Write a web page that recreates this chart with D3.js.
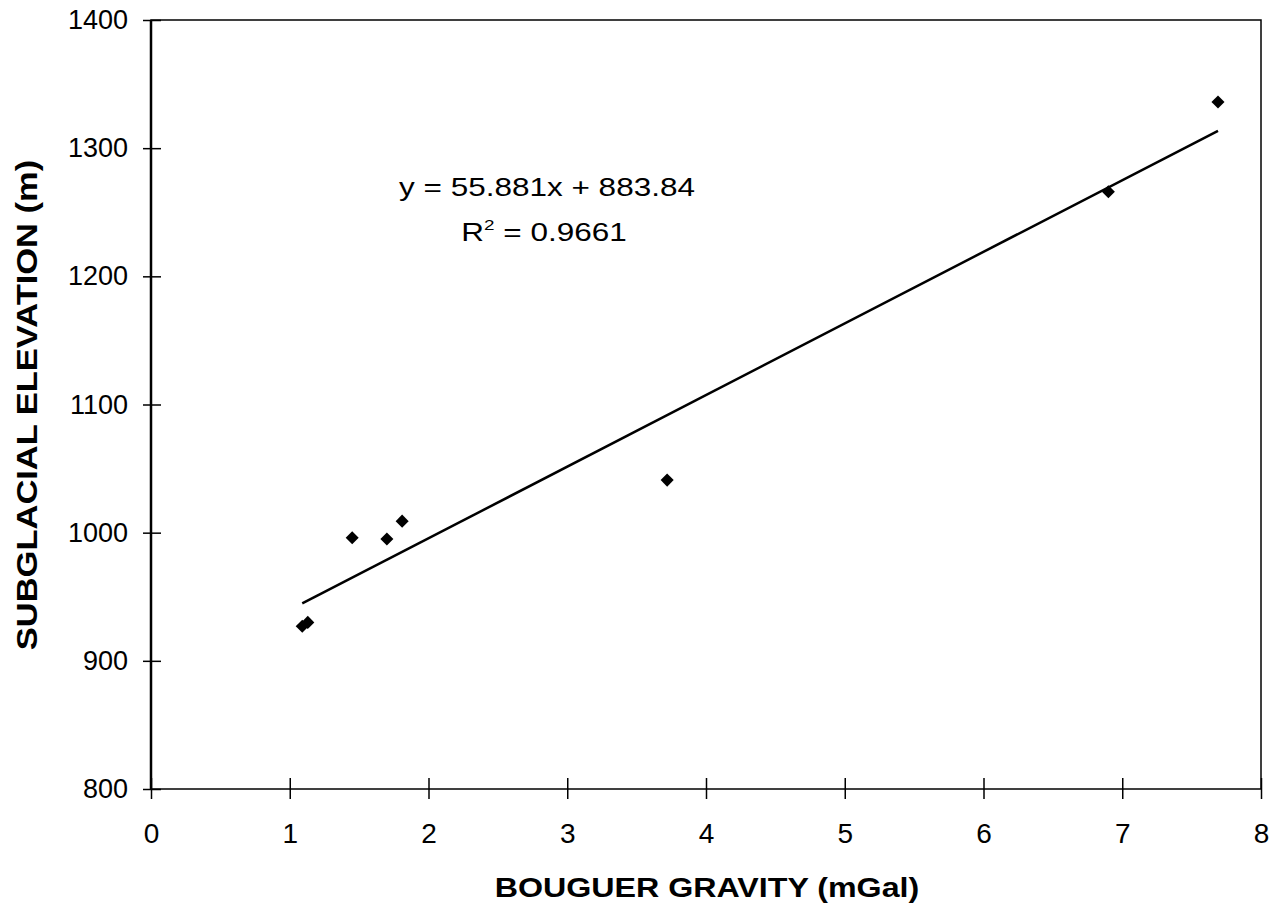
<!DOCTYPE html>
<html>
<head>
<meta charset="utf-8">
<script src="https://cdnjs.cloudflare.com/ajax/libs/d3/7.8.5/d3.min.js"></script>
<style>
  body { margin: 0; background: #fff; }
  svg { display: block; font-family: "Liberation Sans", Arial, sans-serif; }
</style>
</head>
<body>
<div id="grafica"></div>
<script>
// datos
var gravity = [1.09, 1.13, 1.45, 1.70, 1.81, 3.72, 6.90, 7.69];
var elevation = [927, 930, 996, 995, 1009, 1041, 1266, 1336];
var xTicks = [0, 1, 2, 3, 4, 5, 6, 7, 8];
var yTicks = [800, 900, 1000, 1100, 1200, 1300, 1400];
var slope = 55.881, intercept = 883.84;

var margin = { top: 20, right: 16, bottom: 118, left: 151 };

var svg = d3.select("#grafica")
  .append("svg")
  .attr("width", 1277)
  .attr("height", 908)
  .append("g")
  .attr("transform", "translate(" + margin.left + "," + margin.top + ")");

var x = d3.scaleLinear().domain([0, 8]).range([0, 1110]);
var y = d3.scaleLinear().domain([800, 1400]).range([769, 0]);

// marco del area de la grafica
svg.append("rect")
  .attr("x", 0).attr("y", 0)
  .attr("width", x(8)).attr("height", y(800))
  .style("fill", "none").style("stroke", "black").style("stroke-width", 1.5);
svg.append("line")
  .attr("x1", 0).attr("x2", 0).attr("y1", 0).attr("y2", y(800))
  .style("stroke", "black").style("stroke-width", 2.5);

// eje x
var xAxis = svg.append("g")
  .attr("transform", "translate(0," + y(800) + ")")
  .call(d3.axisBottom(x).tickValues(xTicks).tickFormat(d3.format("d"))
    .tickSize(10).tickSizeOuter(0).tickPadding(24));
xAxis.select(".domain").remove();
xAxis.selectAll(".tick line").attr("y1", -11).style("stroke-width", 1.5);
xAxis.selectAll("text").style("font-size", "28px").style("fill", "black");

// eje y
var yAxis = svg.append("g")
  .call(d3.axisLeft(y).tickValues(yTicks).tickFormat(d3.format("d"))
    .tickSize(8).tickSizeOuter(0).tickPadding(15));
yAxis.select(".domain").remove();
yAxis.selectAll(".tick line").attr("x1", 10).style("stroke-width", 1.5);
yAxis.selectAll("text").style("font-size", "27px").style("fill", "black");

// etiquetas de los ejes
svg.append("text")
  .attr("text-anchor", "middle")
  .attr("transform", "translate(556,877) scale(1.15,1)")
  .style("font-size", "28px")
  .style("font-weight", "bold")
  .text("BOUGUER GRAVITY (mGal)");

svg.append("text")
  .attr("text-anchor", "middle")
  .attr("transform", "translate(-114,385) rotate(-90) scale(1.15,1)")
  .style("font-size", "30px")
  .style("font-weight", "bold")
  .text("SUBGLACIAL ELEVATION (m)");

// recta de regresion
var xMin = d3.min(gravity), xMax = d3.max(gravity);
svg.append("line")
  .attr("x1", x(xMin)).attr("y1", y(slope * xMin + intercept))
  .attr("x2", x(xMax)).attr("y2", y(slope * xMax + intercept))
  .style("stroke", "black").style("stroke-width", 2.5);

// puntos (rombos)
svg.append("g")
  .selectAll("path")
  .data(gravity)
  .enter()
  .append("path")
  .attr("d", d3.symbol().type(d3.symbolSquare).size(85))
  .attr("transform", function (d, i) {
    return "translate(" + x(d) + "," + y(elevation[i]) + ") rotate(45)";
  })
  .style("fill", "black");

// ecuacion
svg.append("text")
  .attr("text-anchor", "middle")
  .attr("transform", "translate(396,176) scale(1.26,1)")
  .style("font-size", "25px")
  .text("y = 55.881x + 883.84");
var r2 = svg.append("text")
  .attr("text-anchor", "middle")
  .attr("transform", "translate(393,221) scale(1.26,1)")
  .style("font-size", "25px");
r2.append("tspan").text("R");
r2.append("tspan").attr("dy", -11).style("font-size", "15px").text("2");
r2.append("tspan").attr("dy", 11).text(" = 0.9661");
</script>
</body>
</html>
